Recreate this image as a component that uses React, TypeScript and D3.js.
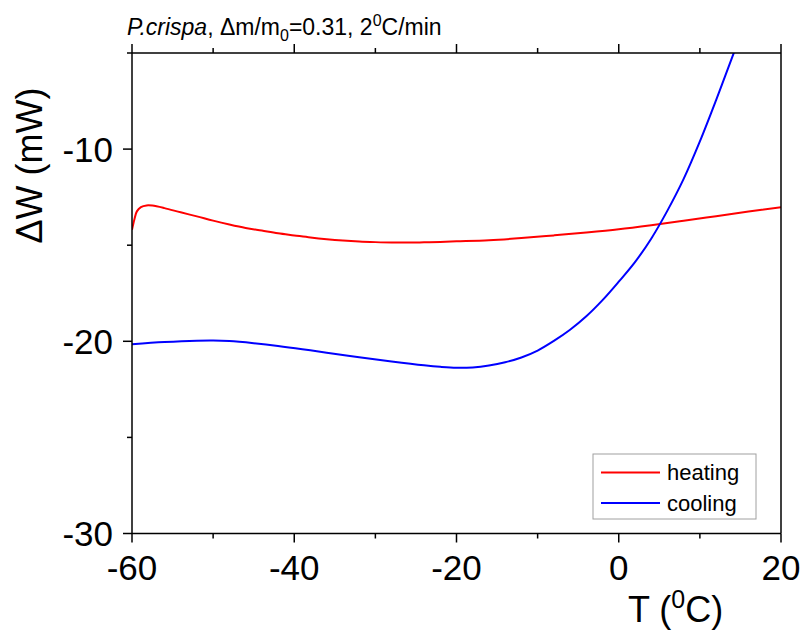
import React from "react";
import * as d3 from "d3";

const heatT = [-60, -59.7, -59.4, -58.9, -58.2, -57.5, -56, -54, -52, -50, -48, -46, -44, -42, -40, -38, -36, -34, -32, -30, -28, -26, -24, -22, -20, -16, -12, -8, -4, 0, 4, 8, 12, 16, 20];
const heatW = [-14.2, -13.65, -13.24, -13.02, -12.93, -12.94, -13.07, -13.29, -13.5, -13.72, -13.92, -14.1, -14.24, -14.38, -14.49, -14.6, -14.69, -14.76, -14.81, -14.84, -14.86, -14.86, -14.85, -14.83, -14.8, -14.74, -14.63, -14.49, -14.34, -14.17, -13.96, -13.73, -13.49, -13.25, -13.02];

const coolT = [-60, -56, -52, -50, -48, -45, -42, -39, -36, -32, -28, -24, -22, -20, -18, -16, -14, -12, -10, -8, -6, -4, -2, 0, 2, 4, 6, 8, 10, 12, 14, 15];
const coolW = [-20.15, -20.04, -19.97, -19.96, -19.99, -20.1, -20.24, -20.41, -20.6, -20.83, -21.05, -21.25, -21.33, -21.38, -21.36, -21.26, -21.09, -20.84, -20.48, -19.98, -19.4, -18.7, -17.86, -16.9, -15.88, -14.66, -13.2, -11.55, -9.6, -7.45, -5.2, -4.1];

const xTicks = [-60, -40, -20, 0, 20];
const xMinor = [-50, -30, -10, 10];
const yTicks = [-30, -20, -10];
const yMinor = [-25, -15, -5];

export default function App() {
  const W = 806, H = 633;
  const L = 132, R = 781, T = 53, B = 533.5;
  const x = d3.scaleLinear().domain([-60, 20]).range([L, R]);
  const y = d3.scaleLinear().domain([-30, -5]).range([B, T]);
  const line = d3.line<[number, number]>().x(d => x(d[0])).y(d => y(d[1])).curve(d3.curveCatmullRom.alpha(0.5));
  const heat = line(heatT.map((t, i) => [t, heatW[i]] as [number, number])) || "";
  const cool = line(coolT.map((t, i) => [t, coolW[i]] as [number, number])) || "";
  const font = "'Liberation Sans', Arial, sans-serif";
  return (
    <svg width={W} height={H} style={{ position: "absolute", left: 0, top: 0 }} fontFamily={font}>
      <rect width={W} height={H} fill="white" />
      <defs>
        <clipPath id="plot"><rect x={L} y={T} width={R - L} height={B - T} /></clipPath>
      </defs>
      <g clipPath="url(#plot)" fill="none" strokeWidth={2}>
        <path d={heat} stroke="#ff0000" />
        <path d={cool} stroke="#0000ff" />
      </g>
      <g stroke="black" strokeWidth={1.5}>
        <line x1={L} x2={R} y1={B} y2={B} />
        <line x1={L} x2={R} y1={T} y2={T} />
        <line x1={L} x2={L} y1={T} y2={B} />
        <line x1={R} x2={R} y1={T} y2={B} />
        {xTicks.map(t => (
          <g key={"xt" + t}>
            <line x1={x(t)} x2={x(t)} y1={B} y2={B + 9} />
            <line x1={x(t)} x2={x(t)} y1={T} y2={T - 9} />
          </g>
        ))}
        {xMinor.map(t => (
          <g key={"xm" + t}>
            <line x1={x(t)} x2={x(t)} y1={B} y2={B + 5} />
            <line x1={x(t)} x2={x(t)} y1={T} y2={T - 5} />
          </g>
        ))}
        {yTicks.map(t => (
          <line key={"yt" + t} x1={L - 9} x2={L} y1={y(t)} y2={y(t)} />
        ))}
        {yMinor.map(t => (
          <line key={"ym" + t} x1={L - 5} x2={L} y1={y(t)} y2={y(t)} />
        ))}
      </g>
      <g fontSize={35} fill="black">
        {xTicks.map(t => (
          <text key={"xl" + t} x={x(t)} y={580} textAnchor="middle">{t}</text>
        ))}
        {yTicks.map(t => (
          <text key={"yl" + t} x={L - 19} y={y(t) + 12.5} textAnchor="end">{t}</text>
        ))}
      </g>
      <text x={628} y={621.5} fontSize={36} fill="black">
        T (<tspan fontSize={25} dy={-14}>0</tspan><tspan dy={14}>C)</tspan>
      </text>
      <text transform="translate(41.5,165.5) rotate(-90)" fontSize={36} textAnchor="middle" fill="black">ΔW (mW)</text>
      <text x={127} y={35} fontSize={23} fill="black">
        <tspan fontStyle="italic">P.crispa</tspan>, Δm/m<tspan fontSize={16} dy={6}>0</tspan><tspan dy={-6}>=0.31, 2</tspan><tspan fontSize={16} dy={-9}>0</tspan><tspan dy={9}>C/min</tspan>
      </text>
      <rect x={593} y={454} width={163} height={65} fill="white" stroke="#a0a0a0" strokeWidth={1} />
      <line x1={601} x2={660} y1={472.5} y2={472.5} stroke="#ff0000" strokeWidth={2} />
      <line x1={601} x2={660} y1={503} y2={503} stroke="#0000ff" strokeWidth={2} />
      <text x={667} y={479.5} fontSize={22} fill="black">heating</text>
      <text x={667} y={511} fontSize={22} fill="black">cooling</text>
    </svg>
  );
}
